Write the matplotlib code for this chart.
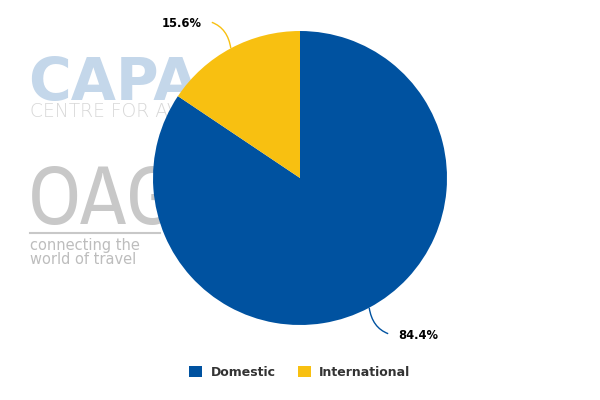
import numpy as np
import matplotlib
matplotlib.use("Agg")
import matplotlib.pyplot as plt
from matplotlib.path import Path
from matplotlib.patches import PathPatch
from matplotlib import font_manager

categories = ["Domestic", "International"]
values = [84.4, 15.6]
colors = ["#0052A0", "#F8C011"]

# find a condensed/narrow family for the OAG watermark, if available
narrow = None
for f in font_manager.fontManager.ttflist:
    if "Narrow" in f.name or "Condensed" in f.name:
        narrow = f.name
        break
for f in font_manager.fontManager.ttflist:
    if f.name == "DejaVu Sans" and f.stretch in ("condensed", "semi-condensed"):
        narrow = narrow or "DejaVu Sans"

fig = plt.figure(figsize=(6, 4), dpi=100)
ax = fig.add_axes([0, 0, 1, 1])

# Watermarks (behind pie)
ax.text(28, 300, "CAPA", fontsize=42, fontweight="black", color="#C4D7EA",
        ha="left", va="baseline", zorder=0, family="DejaVu Sans")
ax.text(30, 283, "CENTRE FOR AVIATION", fontsize=13.5, color="#D8D8D8",
        ha="left", va="baseline", zorder=0, family="DejaVu Sans", fontweight="light")
oag_kw = dict(fontsize=60, color="#C8C8C8", ha="left", va="baseline", zorder=0)
if narrow:
    oag_kw["family"] = narrow
    oag_kw["fontstretch"] = "condensed"
else:
    oag_kw["fontsize"] = 50
ax.text(28, 176, "OAG", **oag_kw)
ax.plot([30, 160], [167, 167], color="#C8C8C8", lw=1.5, zorder=0)
ax.text(30, 150, "connecting the", fontsize=10.5, color="#BDBDBD", ha="left",
        va="baseline", zorder=0)
ax.text(30, 136, "world of travel", fontsize=10.5, color="#BDBDBD", ha="left",
        va="baseline", zorder=0)

cx, cy, r = 300, 222, 147
wedges, _ = ax.pie(values, colors=colors, startangle=90, counterclock=False,
                   center=(cx, cy), radius=r, frame=True,
                   wedgeprops=dict(linewidth=0, zorder=2))
ax.set_xlim(0, 600)
ax.set_ylim(0, 400)
ax.set_aspect("equal")
ax.axis("off")

# Labels with curved leader lines
for w, v, col in zip(wedges, values, colors):
    mid = np.deg2rad((w.theta1 + w.theta2) / 2)
    px, py = cx + r * np.cos(mid), cy + r * np.sin(mid)
    sx = np.sign(np.cos(mid))
    sy = np.sign(np.sin(mid))
    ex, ey = px + sx * 19, py + sy * 26
    path = Path([(px, py), (px + sx * 3, py + sy * 20), (ex, ey)],
                [Path.MOVETO, Path.CURVE3, Path.CURVE3])
    ax.add_patch(PathPatch(path, fill=False, edgecolor=col, lw=1, zorder=3))
    tx = ex + sx * 10
    ax.text(tx, ey - (1 if sy > 0 else 2), f"{v}%", fontsize=8.3, fontweight="bold",
            color="black", ha="left" if sx > 0 else "right", va="center")

# Legend
leg = ax.legend(wedges, categories, loc="lower center", bbox_to_anchor=(0.5, 0.025),
                ncol=2, frameon=False, handlelength=1.0, handleheight=1.0,
                handletextpad=0.7, columnspacing=1.8,
                prop=dict(size=9, weight="bold"))
for t in leg.get_texts():
    t.set_color("#333333")

fig.savefig("out.png", dpi=100, facecolor="white")
